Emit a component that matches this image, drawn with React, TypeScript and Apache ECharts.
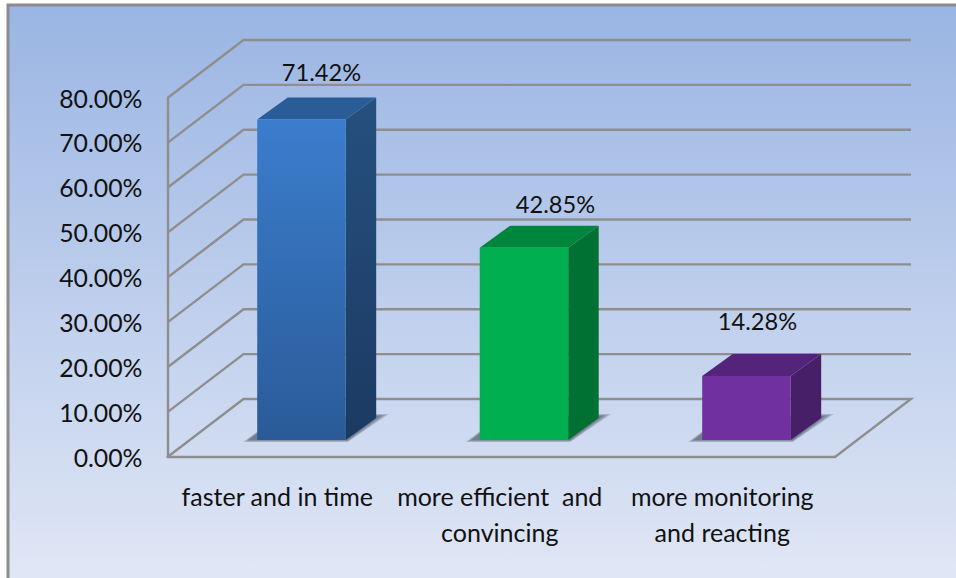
import React, { useEffect, useRef } from "react";
import * as echarts from "echarts";

const categories = ["faster and in time", "more efficient  and\nconvincing", "more monitoring\nand reacting"];
const values = [71.42, 42.85, 14.28];
const valueLabels = ["71.42%", "42.85%", "14.28%"];
const gridTicks = [0, 10, 20, 30, 40, 50, 60, 70, 80];

// Layout and style, kept apart from the data
const GRID = { left: 167.5, right: 121, top: 98, bottom: 121 };
const WALL_DEPTH = { dx: 76, dy: -58 };
const BAR_OFFSET = { dx: 22.7, dy: -17 };
const BAR_DEPTH = { dx: 30.5, dy: -22 };
const BAR_WIDTH = 88.5;
const LABEL_NUDGE = [{ dx: 20, dy: -25.5 }, { dx: 31.5, dy: -21.5 }, { dx: 11, dy: -33 }];
const SHADOW_LAYERS = [0, 2, 4, 6];
const LINE = "#8E8E8E";
const FONT = "Lato";

const vGrad = (a: string, b: string) =>
  new echarts.graphic.LinearGradient(0, 0, 0, 1, [
    { offset: 0, color: a },
    { offset: 1, color: b },
  ]);

const FACES = [
  { front: ["#3B7DCD", "#2A5B98"], side: ["#26507F", "#1B3A62"], top: "#2A5D97" },
  { front: ["#00B050", "#00B050"], side: ["#007033", "#007033"], top: "#00863C" },
  { front: ["#7030A0", "#7030A0"], side: ["#461F68", "#461F68"], top: "#53247A" },
];

function renderWall(params: any, api: any) {
  const tick = api.value(0);
  const [, y] = api.coord([0, tick]);
  const cs = params.coordSys;
  const x1 = cs.x + cs.width;
  const by = y + WALL_DEPTH.dy;
  const pts: number[][] = [[cs.x, y], [cs.x + WALL_DEPTH.dx, by], [x1 + WALL_DEPTH.dx, by]];
  if (tick === 0) pts.push([x1, y]);
  return {
    type: "polyline",
    shape: { points: pts },
    style: { stroke: LINE, lineWidth: 2.4, fill: "none" },
    silent: true,
  };
}

function renderBar(_params: any, api: any) {
  const i = api.value(0);
  const v = api.value(1);
  const [cx, yTop0] = api.coord([i, v]);
  const [, yBase0] = api.coord([i, 0]);
  const x0 = cx - BAR_WIDTH / 2 + BAR_OFFSET.dx;
  const x1 = x0 + BAR_WIDTH;
  const yt = yTop0 + BAR_OFFSET.dy;
  const yb = yBase0 + BAR_OFFSET.dy;
  const d = BAR_DEPTH;
  const f = FACES[i];
  const nudge = LABEL_NUDGE[i];
  const shadows = SHADOW_LAYERS.map((k) => ({
    type: "polygon",
    shape: {
      points: [
        [x0 - 14 + k, yb + 2 - k / 3],
        [x1 + 2, yb + 2 - k / 3],
        [x1 + 43 - k * 1.5, yb - 26 + k / 3],
        [x1 + 10, yb - 26 + k / 3],
        [x0 + 2, yb - 10 + k / 3],
      ],
    },
    style: { fill: "rgba(70,75,90,0.24)" },
  }));
  return {
    type: "group",
    children: [
      ...shadows,
      {
        type: "polygon",
        shape: { points: [[x1, yt], [x1 + d.dx, yt + d.dy], [x1 + d.dx, yb + d.dy], [x1, yb]] },
        style: { fill: vGrad(f.side[0], f.side[1]) },
      },
      {
        type: "polygon",
        shape: { points: [[x0, yt], [x0 + d.dx, yt + d.dy], [x1 + d.dx, yt + d.dy], [x1, yt]] },
        style: { fill: f.top },
      },
      {
        type: "rect",
        shape: { x: x0, y: yt, width: BAR_WIDTH, height: yb - yt },
        style: { fill: vGrad(f.front[0], f.front[1]) },
      },
      {
        type: "text",
        style: {
          x: cx + BAR_OFFSET.dx + nudge.dx,
          y: yt + d.dy + nudge.dy,
          text: valueLabels[i],
          fill: "#111111",
          font: `23.6px ${FONT}`,
          align: "center",
          verticalAlign: "middle",
        },
      },
    ],
  };
}

export default function App() {
  const ref = useRef<HTMLDivElement>(null);

  useEffect(() => {
    const chart = echarts.init(ref.current!, undefined, { renderer: "svg" });
    chart.setOption({
      animation: false,
      graphic: [
        {
          type: "rect",
          z: -10,
          silent: true,
          shape: { x: 8, y: 5, width: 960, height: 590 },
          style: {
            fill: vGrad("#9AB5E3", "#E2E8F6"),
            stroke: "#8C8C8C",
            lineWidth: 3,
          },
        },
      ],
      grid: { ...GRID },
      xAxis: {
        type: "category",
        data: categories,
        axisLine: { show: true, lineStyle: { color: LINE, width: 2.4 } },
        axisTick: { show: false },
        axisLabel: {
          color: "#111111",
          fontFamily: FONT,
          fontSize: 25,
          lineHeight: 36,
          margin: 21,
          interval: 0,
          padding: [0, 3, 0, 0],
        },
      },
      yAxis: {
        type: "value",
        min: 0,
        max: 80,
        interval: 10,
        splitLine: { show: false },
        axisLine: { show: true, lineStyle: { color: LINE, width: 2.4 } },
        axisTick: { show: false },
        axisLabel: {
          color: "#111111",
          fontFamily: FONT,
          fontSize: 24.8,
          margin: 25,
          formatter: (v: number) => `${v.toFixed(2)}%`,
        },
      },
      series: [
        {
          type: "custom",
          name: "walls",
          coordinateSystem: "cartesian2d",
          renderItem: renderWall,
          data: gridTicks.map((t) => [t]),
          encode: { y: 0 },
          clip: false,
          silent: true,
          z: 1,
        },
        {
          type: "custom",
          name: "bars",
          coordinateSystem: "cartesian2d",
          renderItem: renderBar,
          data: values.map((v, i) => [i, v]),
          encode: { x: 0, y: 1 },
          clip: false,
          z: 3,
        },
      ],
    });
    return () => chart.dispose();
  }, []);

  return (
    <div
      ref={ref}
      style={{ position: "fixed", left: 0, top: 0, width: 956, height: 578, background: "#ffffff" }}
    />
  );
}
